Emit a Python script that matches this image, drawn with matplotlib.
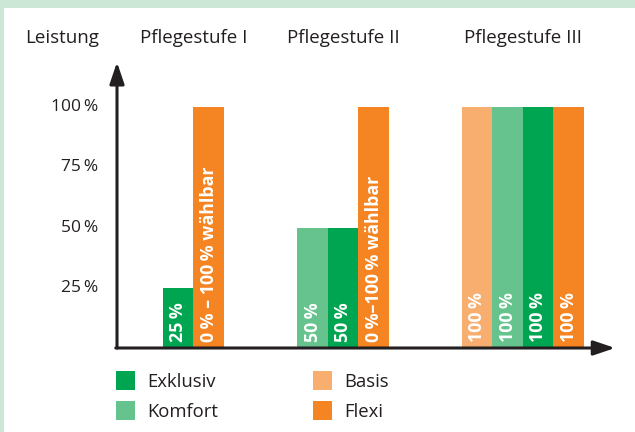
import matplotlib
matplotlib.use("Agg")
import matplotlib.pyplot as plt
from matplotlib.patches import Rectangle

# Daten
stufen = ["Pflegestufe I", "Pflegestufe II", "Pflegestufe III"]
tarife_je_stufe = [["Exklusiv", "Flexi"],
                   ["Komfort", "Exklusiv", "Flexi"],
                   ["Basis", "Komfort", "Exklusiv", "Flexi"]]
leistung_je_stufe = [[25, 100],
                     [50, 50, 100],
                     [100, 100, 100, 100]]
texte_je_stufe = [["25\u2009%", "0\u2009% – 100\u2009% wählbar"],
                  ["50\u2009%", "50\u2009%", "0\u2009%–100\u2009% wählbar"],
                  ["100\u2009%", "100\u2009%", "100\u2009%", "100\u2009%"]]
y_ticks = [25, 50, 75, 100]
y_ticklabels = ["25\u2009%", "50\u2009%", "75\u2009%", "100\u2009%"]
legende = ["Exklusiv", "Komfort", "Basis", "Flexi"]

farben = {"Exklusiv": "#00a551", "Komfort": "#66c38e",
          "Basis": "#f8ae6e", "Flexi": "#f58423"}
dunkel = "#231f20"
plt.rcParams["font.family"] = ["Open Sans", "DejaVu Sans"]

W, H = 635, 432
fig = plt.figure(figsize=(W / 100, H / 100), dpi=100)
fig.patch.set_facecolor("#cde7d6")
fig.patches.append(Rectangle((4 / W, 0), 1, (H - 8) / H, transform=fig.transFigure,
                             facecolor="white", edgecolor="none", zorder=-1))

ax = fig.add_axes([117 / W, 84 / H, 503.25 / W, 289.2 / H])
ax.set_xlim(0, 16.5)
ax.set_ylim(0, 120)
ax.axis("off")

zentren = [2.5, 7.41, 13.31]
for i, stufe in enumerate(stufen):
    n = len(tarife_je_stufe[i])
    xs = [zentren[i] - (n - 1) / 2 + k for k in range(n)]
    for x, tarif, wert, txt in zip(xs, tarife_je_stufe[i], leistung_je_stufe[i], texte_je_stufe[i]):
        ax.bar(x, wert, width=1.0, color=farben[tarif], linewidth=0)
        ax.text(x, 2.3, txt, rotation=90, ha="center", va="bottom", color="white",
                fontsize=12.8, fontweight="bold")
    ax.text(zentren[i], 128.6, stufe, ha="center", va="center", fontsize=13.5,
            color=dunkel, clip_on=False)

for t, lab in zip(y_ticks, y_ticklabels):
    ax.text(-0.62, t, lab, ha="right", va="center", fontsize=12.5,
            color=dunkel, clip_on=False)
fig.text(62 / W, 1 - 38 / H, "Leistung", ha="center", va="center", fontsize=13.5, color=dunkel)

# Achsen mit Pfeilen
pfeil = dict(arrowstyle="-|>,head_length=0.65,head_width=0.22", lw=2.2, color=dunkel,
             mutation_scale=20, shrinkA=0, shrinkB=0)
ax.annotate("", xy=(0, 118.6), xytext=(0, 0), arrowprops=pfeil, annotation_clip=False)
ax.annotate("", xy=(16.33, 0), xytext=(-0.04, 0), arrowprops=pfeil, annotation_clip=False)

# Legende
for k, name in enumerate(legende):
    col, row = divmod(k, 2)
    x0 = (116 + col * 197) / W
    y0 = 1 - (390 + row * 30) / H
    fig.patches.append(Rectangle((x0, y0), 19 / W, 19 / H, transform=fig.transFigure,
                                 facecolor=farben[name], edgecolor="none"))
    fig.text(x0 + 31 / W, y0 + 8 / H, name, ha="left", va="center", fontsize=13.3, color=dunkel)

fig.savefig("out.png", dpi=100)
